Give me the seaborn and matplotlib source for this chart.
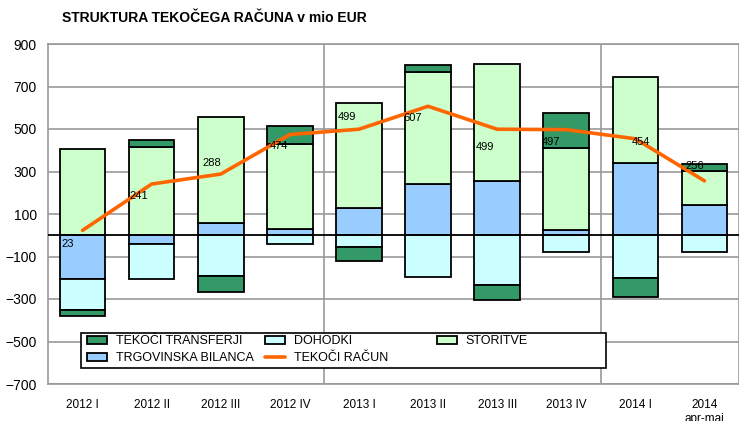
import numpy as np
import pandas as pd
import matplotlib
matplotlib.use("Agg")
import matplotlib.pyplot as plt
from matplotlib.patches import Rectangle
import seaborn as sns

# data (mio EUR)
quarters = ["2012 I", "2012 II", "2012 III", "2012 IV", "2013 I",
            "2013 II", "2013 III", "2013 IV", "2014 I", "2014\napr-maj"]
trgovinska = [-207, -42, 60, 28, 130, 242, 253, 24, 342, 144]
storitve = [405, 415, 495, 400, 492, 528, 552, 385, 402, 159]
dohodki = [-146, -165, -191, -40, -55, -196, -233, -80, -202, -78]
transferji = [-29, 33, -76, 86, -68, 33, -73, 168, -88, 31]
tekoci_racun = [23, 241, 288, 474, 499, 607, 499, 497, 454, 256]

# label offsets (pixels) for the current account labels
label_dx = [-21, -22, -18, -20, -21, -25, -21, -24, -4, -19]
label_dy = [-14, -12, 11, -11, 12, -12, -18, -12, -3, 15]

col_transf = "#339966"
col_doh = "#CCFFFF"
col_stor = "#CCFFCC"
col_trg = "#99CCFF"
col_line = "#FF6600"
col_grid = "#999999"

sns.set_style("white")
plt.rcParams["font.family"] = ["Liberation Sans", "DejaVu Sans"]
plt.rcParams["text.color"] = "black"
plt.rcParams["xtick.color"] = "black"
plt.rcParams["ytick.color"] = "black"

W, H = 739, 421
fig = plt.figure(figsize=(W / 100, H / 100), dpi=100)
ax = fig.add_axes([48 / W, 1 - 384 / H, 691 / W, 340 / H])

# stacking: positives go up, negatives go down
pos_base = np.zeros(len(quarters))
neg_base = np.zeros(len(quarters))
series = [("TRGOVINSKA BILANCA", trgovinska, col_trg),
          ("STORITVE", storitve, col_stor),
          ("DOHODKI", dohodki, col_doh),
          ("TEKOČI TRANSFERJI", transferji, col_transf)]
handles = {}
for name, vals, col in series:
    vals = np.array(vals, dtype=float)
    bottom = np.where(vals >= 0, pos_base, neg_base)
    sns.barplot(x=quarters, y=vals, bottom=bottom, color=col, edgecolor="black",
                linewidth=1.3, width=0.66, saturation=1, ax=ax, order=quarters)
    handles[name] = Rectangle((0, 0), 1, 1, facecolor=col, edgecolor="black", linewidth=1.3)
    pos_base = pos_base + np.where(vals >= 0, vals, 0)
    neg_base = neg_base + np.where(vals < 0, vals, 0)

ax.axhline(0, color="black", linewidth=1.3, zorder=3)

xpos = np.arange(len(quarters))
sns.lineplot(x=xpos, y=tekoci_racun, color=col_line, linewidth=2.6, sort=False, ax=ax, zorder=4)
handles["TEKOČI RAČUN"] = plt.Line2D([], [], color=col_line, linewidth=2.6)

for i, v in enumerate(tekoci_racun):
    ax.annotate(str(v), (xpos[i], v), xytext=(label_dx[i], label_dy[i]),
                textcoords="offset pixels", ha="left", va="center", fontsize=8, zorder=5)

ax.set_ylim(-700, 900)
ax.set_xlim(-0.5, len(quarters) - 0.5)
ax.set_yticks(np.arange(900, -701, -200))
ax.yaxis.grid(True, color=col_grid, linewidth=1.2)
ax.set_axisbelow(True)
for xv in [3.5, 7.5]:
    ax.axvline(xv, color=col_grid, linewidth=1.2, zorder=0)
for s in ax.spines.values():
    s.set_color(col_grid)
    s.set_linewidth(1.2)
ax.tick_params(axis="y", length=5, color=col_grid, labelcolor="black", labelsize=10, pad=3)
ax.tick_params(axis="x", length=0, labelsize=8.5, pad=11)
ax.set_xlabel("")
ax.set_ylabel("")

# legend box, drawn by hand so the columns can sit like in the original
frame = Rectangle((81 / W, 1 - 368 / H), 525 / W, 35 / H, transform=fig.transFigure,
                  facecolor="white", edgecolor="black", linewidth=1.2, zorder=5.5, clip_on=False)
ax.add_patch(frame)

leg_kw = dict(fontsize=9, frameon=False, handlelength=1.6, handleheight=0.6,
              handletextpad=0.7, borderpad=0, labelspacing=0.4, columnspacing=0.9,
              loc="upper left", bbox_transform=fig.transFigure, borderaxespad=0)
order = ["TEKOČI TRANSFERJI", "TRGOVINSKA BILANCA", "DOHODKI", "TEKOČI RAČUN"]
leg1 = ax.legend([handles[k] for k in order], order, ncol=2,
                 bbox_to_anchor=(87 / W, 1 - 335 / H), **leg_kw)
leg1.set_zorder(6)
ax.add_artist(leg1)
leg2 = ax.legend([handles["STORITVE"]], ["STORITVE"], ncol=1,
                 bbox_to_anchor=(437 / W, 1 - 335 / H), **leg_kw)
leg2.set_zorder(6)

fig.text(62 / W, 1 - 18 / H, "STRUKTURA TEKOČEGA RAČUNA v mio EUR",
         fontsize=10, fontweight="bold", ha="left", va="center", color="black")

fig.savefig("out.png", dpi=100)
